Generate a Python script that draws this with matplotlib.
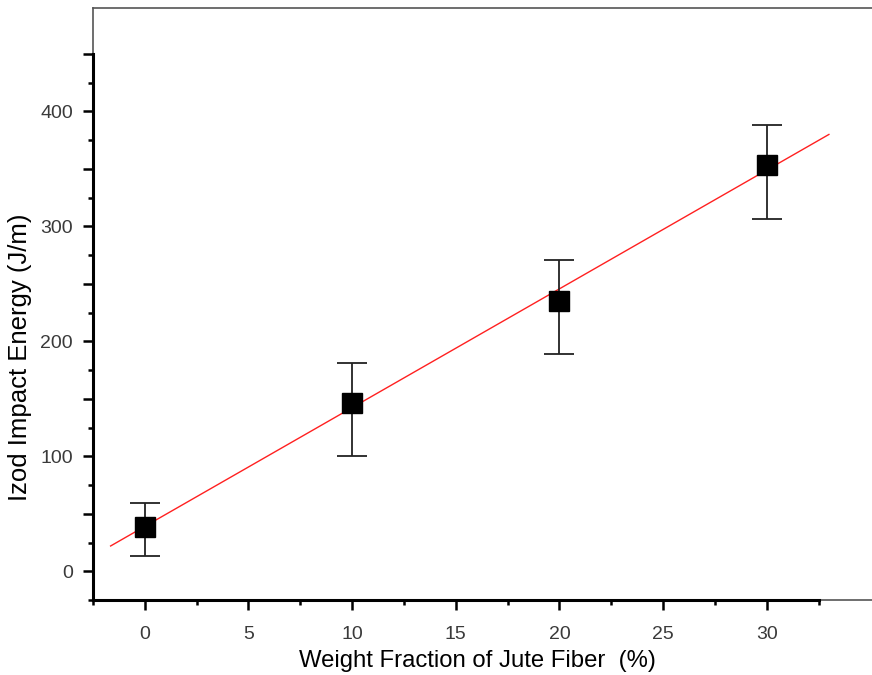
import numpy as np
import matplotlib
matplotlib.use("Agg")
import matplotlib.pyplot as plt
from matplotlib.ticker import FuncFormatter

plt.rcParams['font.family'] = ['Liberation Sans', 'DejaVu Sans']

# Izod impact energy vs jute fiber weight fraction
fiber_pct = [0, 10, 20, 30]
energy = [38.5, 146.5, 235.5, 353.5]
err_low = [25, 46, 46.5, 47]
err_high = [21, 35, 35.5, 35]

# linear fit line end points
fit_x = [-1.65, 33.0]
fit_y = [22, 380]

fig = plt.figure(figsize=(8.72, 6.75), dpi=100)
# axes frame runs past the right edge of the figure, as in the original
ax = fig.add_axes([93 / 872, 75 / 675, 790 / 872, 592 / 675])

ax.plot(fit_x, fit_y, color='#ff2020', lw=1.0, zorder=2)
ax.errorbar(fiber_pct, energy, yerr=[err_low, err_high], fmt='s',
            color='black', ms=14, mec='black', ecolor='#222222',
            elinewidth=1.3, capsize=11, capthick=1.3, zorder=3)

ax.set_xlim(-2.5, -2.5 + 790 / 20.73)
ax.set_ylim(-25, 490)

# thick axes only over the data range, thin grey frame elsewhere
for side in ['left', 'bottom']:
    ax.spines[side].set_linewidth(2.2)
    ax.spines[side].set_color('black')
ax.spines['left'].set_bounds(-25, 450)
ax.spines['bottom'].set_bounds(-2.5, 32.5)
ax.spines['top'].set_color('#555555')
ax.spines['top'].set_linewidth(1.2)
ax.spines['right'].set_visible(False)
ax.plot([-2.5, -2.5], [450, 490], color='#555555', lw=1.2, clip_on=False, zorder=1)
ax.plot([32.5, 40], [-25, -25], color='#555555', lw=1.2, clip_on=False, zorder=1)

ax.set_xticks(np.arange(0, 35, 5))
ax.set_xticks(np.arange(-2.5, 35, 2.5), minor=True)
ax.set_yticks(np.arange(0, 451, 50))
ax.set_yticks(np.arange(-25, 451, 25), minor=True)
ax.yaxis.set_major_formatter(FuncFormatter(lambda v, p: '%d' % v if v % 100 == 0 else ''))

ax.tick_params(which='major', direction='out', length=7.5, width=1.8,
               labelsize=14, labelcolor='#3a3a3a')
ax.tick_params(axis='x', which='major', pad=11)
ax.tick_params(axis='y', which='major', pad=7)
ax.tick_params(which='minor', direction='out', length=3.5, width=1.8)

ax.set_xlabel('Weight Fraction of Jute Fiber  (%)', fontsize=17.2)
ax.set_ylabel('Izod Impact Energy (J/m)', fontsize=18.5)
ax.xaxis.set_label_coords(0.487, -0.085)
ax.yaxis.set_label_coords(-0.092, 0.41)
ax.xaxis.label.set_va('top')
ax.yaxis.label.set_va('center')

fig.savefig('out.png', dpi=100)
